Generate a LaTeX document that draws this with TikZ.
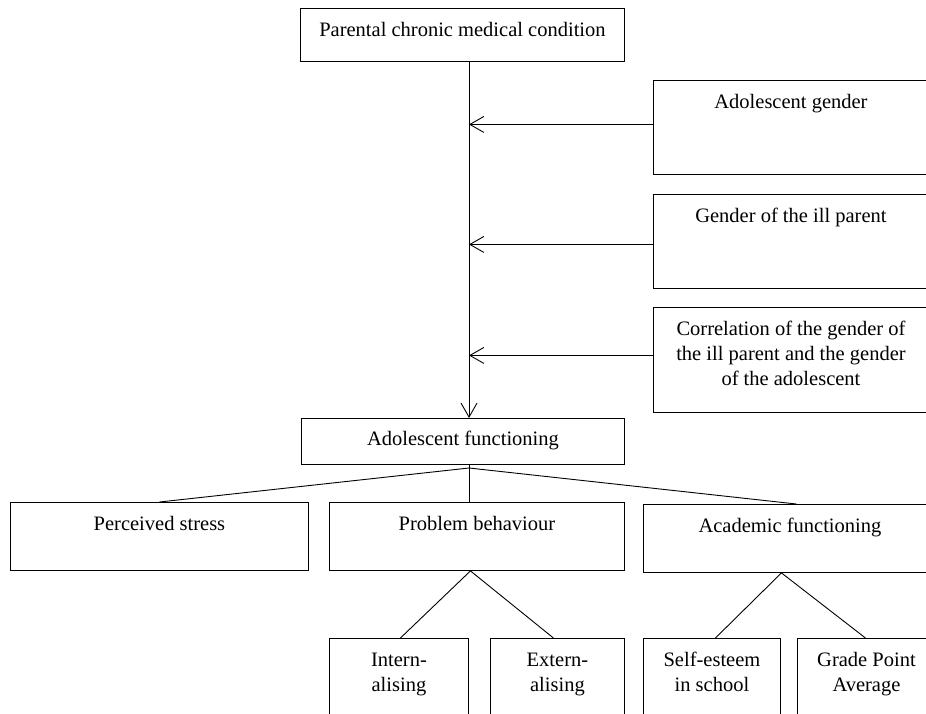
\documentclass[tikz,border=0pt]{standalone}
\usepackage{fontspec}
\setmainfont{Liberation Serif}
\usetikzlibrary{arrows.meta}
\tikzset{
  boxst/.style={draw, line width=0.9pt, inner sep=0pt, anchor=north west, rectangle},
  txt/.style={inner sep=0pt, anchor=north, align=center, font=\fontsize{20.5}{25}\selectfont},
  arr/.style={line width=0.9pt, -{Straight Barb[length=14pt,width=16pt,line width=0.9pt]}},
  ln/.style={line width=0.9pt}
}
\begin{document}
\begin{tikzpicture}[x=1pt,y=-1pt]
\useasboundingbox (0,0) rectangle (926,713);
\clip (0,0) rectangle (926,713);
% boxes
\node[boxst, minimum width=324pt, minimum height=53pt] (P) at (300,8) {};
\node[boxst, minimum width=275pt, minimum height=94pt] (G1) at (653,80) {};
\node[boxst, minimum width=275pt, minimum height=94pt] (G2) at (653,194) {};
\node[boxst, minimum width=275pt, minimum height=105pt] (G3) at (653,307) {};
\node[boxst, minimum width=323pt, minimum height=46pt] (AF) at (301,418) {};
\node[boxst, minimum width=298pt, minimum height=68pt] (PS) at (10,502) {};
\node[boxst, minimum width=295pt, minimum height=68pt] (PB) at (329,502) {};
\node[boxst, minimum width=293pt, minimum height=68pt] (AC) at (643,504) {};
\node[boxst, minimum width=139pt, minimum height=92pt] (IN) at (329,638) {};
\node[boxst, minimum width=134pt, minimum height=92pt] (EX) at (490,638) {};
\node[boxst, minimum width=137pt, minimum height=92pt] (SE) at (643,638) {};
\node[boxst, minimum width=138pt, minimum height=92pt] (GP) at (797,638) {};
% texts
\node[txt] (Pt) at ([yshift=-10.5pt]P.north) {\strut Parental chronic medical condition};
\node[txt] (G1t) at ([yshift=-10.5pt]G1.north) {\strut Adolescent gender};
\node[txt] (G2t) at ([yshift=-10.5pt]G2.north) {\strut Gender of the ill parent};
\node[txt] (G3t) at ([yshift=-10.5pt]G3.north) {\strut Correlation of the gender of\\the ill parent and the gender\\of the adolescent};
\node[txt] (AFt) at ([yshift=-9.5pt]AF.north) {\strut Adolescent functioning};
\node[txt] (PSt) at ([yshift=-10.5pt]PS.north) {\strut Perceived stress};
\node[txt] (PBt) at ([yshift=-10.5pt]PB.north) {\strut Problem behaviour};
\node[txt] (ACt) at ([yshift=-10.5pt]AC.north) {\strut Academic functioning};
\node[txt] (INt) at ([yshift=-10.5pt]IN.north) {\strut Intern-\\alising};
\node[txt] (EXt) at ([yshift=-10.5pt]EX.north) {\strut Extern-\\alising};
\node[txt] (SEt) at ([yshift=-10.5pt]SE.north) {\strut Self-esteem\\in school};
\node[txt] (GPt) at ([yshift=-10.5pt]GP.north) {\strut Grade Point\\Average};
% connectors
\coordinate (spine) at (469,0);
\coordinate (apex) at (469,468);
\draw[arr] (P.south -| spine) -- (AF.north -| spine);
\draw[arr] ([yshift=3pt]G1.west) -- ([yshift=3pt]G1.west -| spine);
\draw[arr] ([yshift=-3pt]G2.west) -- ([yshift=-3pt]G2.west -| spine);
\draw[arr] ([yshift=4.5pt]G3.west) -- ([yshift=4.5pt]G3.west -| spine);
\draw[ln] (AF.south -| spine) -- (PB.north -| spine);
\draw[ln] (PS.north) -- (apex) -- ([xshift=6.5pt]AC.north);
\coordinate (pbb) at ([xshift=-6.5pt]PB.south);
\draw[ln] ([xshift=1.5pt]IN.north) -- (pbb) -- ([xshift=-4pt]EX.north);
\coordinate (acb) at ([xshift=-8.5pt]AC.south);
\draw[ln] ([xshift=3.5pt]SE.north) -- (acb) -- ([xshift=-1pt]GP.north);
\end{tikzpicture}
\end{document}
